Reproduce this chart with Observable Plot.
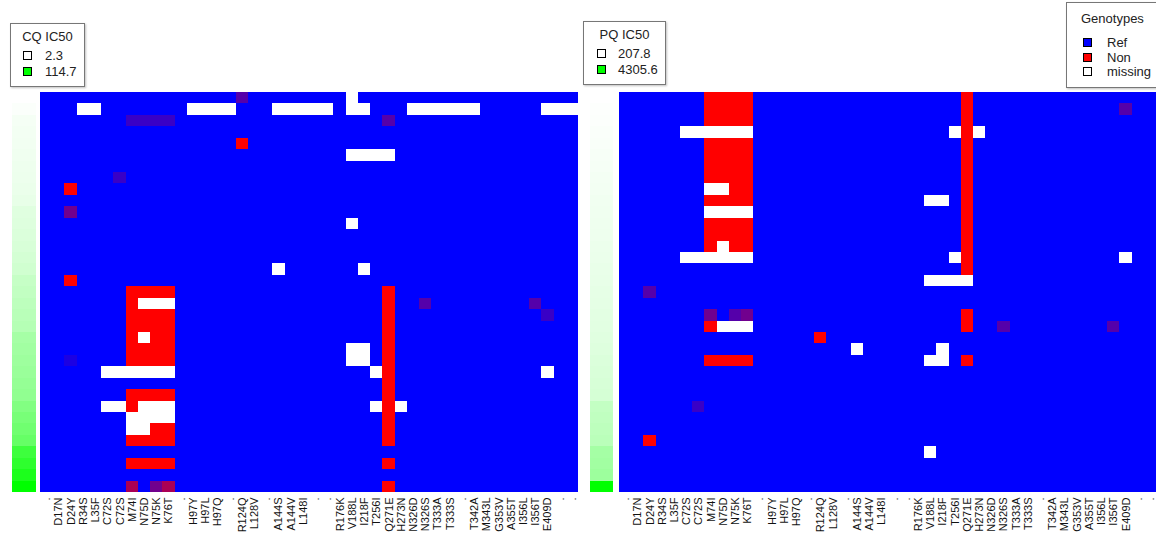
<!DOCTYPE html>
<html>
<head>
<meta charset="utf-8">
<script src="https://cdn.jsdelivr.net/npm/d3@7"></script>
<script src="https://cdn.jsdelivr.net/npm/@observablehq/plot@0.6"></script>
<style>
  body { margin: 0; background: #fff; font-family: "Liberation Sans", Arial, Helvetica, sans-serif; }
  #chart { position: relative; width: 1156px; height: 540px; overflow: hidden; }
  .panel { position: absolute; }
  .legend { position: absolute; background: #fff; border: 1px solid #777; box-shadow: 1px 1px 2px rgba(0,0,0,0.25); color: #222; font-size: 13px; box-sizing: border-box; }
  .legend .title { position: absolute; left: 0; right: 0; text-align: center; }
  .legend .item { position: absolute; height: 16px; line-height: 16px; white-space: nowrap; }
  .legend .sw { position: absolute; width: 7px; height: 7px; border: 1px solid #000; top: 3px; }
</style>
</head>
<body>
<div id="chart"></div>
<script>
// Mutation columns (blank names shown as ".")
const columnLabels = [".", "D17N", "D24Y", "R34S", "L35F", "C72S", "C72S", "M74I", "N75D", "N75K", "K76T",
  ".", "H97Y", "H97L", "H97Q", ".", "R124Q", "L128V", ".", "A144S", "A144V", "L148I", ".", ".",
  "R176K", "V188L", "I218F", "T256I", "Q271E", "H273N", "N326D", "N326S", "T333A", "T333S", ".",
  "T342A", "M343L", "G353V", "A355T", "I356L", "I356T", "E409D", ".", "."];

// Isolate IC50 values, sorted ascending (one per heatmap row)
const cqIC50 = [2.3, 4.1, 6.8, 7.5, 8.2, 8.9, 9.6, 10.4, 11.2, 12.5, 15.8, 16.9, 18.1, 19.6, 21.3,
  23.0, 27.5, 29.4, 31.2, 33.0, 35.1, 41.6, 43.2, 45.0, 46.8, 48.9, 51.0, 57.4, 61.8, 65.3,
  69.7, 87.9, 94.6, 102.3, 114.7];
const pqIC50 = [207.8, 236, 262, 281, 305, 330, 352, 378, 402, 425, 448, 466, 489, 512, 534,
  556, 580, 603, 627, 651, 680, 712, 745, 780, 815, 851, 890, 1180, 1225, 1270,
  1320, 1650, 1710, 1780, 4305.6];

// Genotype calls per row: "col" or "from-to" : value, where 0 = Ref, 9 = Non,
// intermediate digits = mixed calls, x = missing; unlisted columns are Ref.
const cqGenotypes = [
  "16:3 25:x",
  "3-4:x 12-15:x 19-23:x 25-26:x 30-35:x 41-43:x",
  "7-10:2 28:3",
  "",
  "16:9",
  "25-28:x",
  "",
  "6:2",
  "2:9",
  "",
  "2:4",
  "25:x",
  "",
  "",
  "",
  "19:x 26:x",
  "2:9",
  "7-10:9 28:9",
  "7:9 8-10:x 28:9 31:3 40:3",
  "7-10:9 28:9 41:2",
  "7-10:9 28:9",
  "7:9 8:x 9-10:9 28:9",
  "7-10:9 25-26:x 28:9",
  "2:1 7-10:9 25-26:x 28:9",
  "5-10:x 27:x 28:9 41:x",
  "28:9",
  "7-10:9 28:9",
  "5-6:x 7:9 8-10:x 27:x 28:9 29:x",
  "7-10:x 28:9",
  "7-8:x 9-10:9 28:9",
  "7-10:9 28:9",
  "",
  "7-10:9 28:9",
  "",
  "7:6 9:4 10:6 28:9"
];
const pqGenotypes = [
  "7-10:9 28:9",
  "7-10:9 28:9 41:3",
  "7-10:9 28:9",
  "5-10:x 27:x 28:9 29:x",
  "7-10:9 28:9",
  "7-10:9 28:9",
  "7-10:9 28:9",
  "7-10:9 28:9",
  "7-8:x 9-10:9 28:9",
  "7-10:9 25-26:x 28:9",
  "7-10:x 28:9",
  "7-10:9 28:9",
  "7-10:9 28:9",
  "7:9 8:x 9-10:9 28:9",
  "5-10:x 27:x 28:9 41:x",
  "28:9",
  "25-28:x",
  "2:3",
  "",
  "7:4 9:3 10:4 28:9",
  "7:9 8-10:x 28:9 31:3 40:3",
  "16:9",
  "19:x 26:x",
  "7-10:9 25-26:x 28:9",
  "",
  "",
  "",
  "6:2",
  "",
  "",
  "2:9",
  "25:x",
  "",
  "",
  ""
];

const genotypeNames = ["Ref", "Non", "missing"];
const genotypeColors = ["#0000ff", "#ff0000", "#ffffff"];
const ic50Colors = ["#ffffff", "#00ff00"];

const chart = document.getElementById("chart");

function parseRow(spec) {
  const vals = new Array(columnLabels.length).fill(0);
  for (const tok of spec.split(/\s+/).filter(Boolean)) {
    const [range, v] = tok.split(":");
    const [a, b = a] = range.split("-").map(Number);
    for (let c = a; c <= b; ++c) vals[c] = v === "x" ? NaN : +v / 9;
  }
  return vals;
}

function place(node, left, top) {
  node.classList.add("panel");
  node.style.left = left + "px";
  node.style.top = top + "px";
  chart.appendChild(node);
}

function heatmap(rows, width) {
  const cells = [];
  rows.forEach((spec, r) => parseRow(spec).forEach((v, c) => cells.push({row: r, col: c, v})));
  return Plot.plot({
    width, height: 448,
    marginTop: 0, marginRight: 0, marginBottom: 48, marginLeft: 0,
    x: {type: "band", domain: d3.range(columnLabels.length), padding: 0, round: false},
    y: {type: "band", domain: d3.range(rows.length), padding: 0, round: false, axis: null},
    color: {type: "linear", domain: [0, 1], range: genotypeColors.slice(0, 2), interpolate: "rgb"},
    style: {fontFamily: "'Liberation Sans', Arial, sans-serif", background: "transparent"},
    marks: [
      Plot.cell(cells.filter(d => !isNaN(d.v)), {x: "col", y: "row", fill: "v", inset: 0, shapeRendering: "crispEdges"}),
      Plot.cell(cells.filter(d => isNaN(d.v)), {x: "col", y: "row", fill: genotypeColors[2], inset: 0, shapeRendering: "crispEdges"}),
      Plot.axisX({tickRotate: -90, tickSize: 0, tickPadding: 5, fontSize: 11, fill: "#111",
        tickFormat: i => columnLabels[i], label: null})
    ]
  });
}

function sideBar(values, width) {
  return Plot.plot({
    width, height: 400,
    margin: 0,
    y: {type: "band", domain: d3.range(values.length), padding: 0, round: false, axis: null},
    color: {type: "linear", domain: d3.extent(values), range: ic50Colors, interpolate: "rgb"},
    marks: [
      Plot.cell(values, {y: (d, i) => i, fill: d => d, inset: 0, shapeRendering: "crispEdges"})
    ]
  });
}

function ic50Legend(title, values, box) {
  const [lo, hi] = d3.extent(values);
  const div = document.createElement("div");
  div.className = "legend";
  Object.assign(div.style, {left: box.left + "px", top: box.top + "px", width: box.width + "px", height: box.height + "px"});
  div.innerHTML = `<div class="title" style="top:5px">${title}</div>` +
    [lo, hi].map((v, i) => `<div class="item" style="left:${box.sw}px;top:${24 + i * 16}px">` +
      `<span class="sw" style="left:0;background:${ic50Colors[i]}"></span>` +
      `<span style="position:absolute;left:${box.txt}px">${v}</span></div>`).join("");
  chart.appendChild(div);
}

function genotypeLegend(box) {
  const div = document.createElement("div");
  div.className = "legend";
  Object.assign(div.style, {left: box.left + "px", top: box.top + "px", width: box.width + "px", height: box.height + "px"});
  div.innerHTML = `<div class="title" style="top:8px;text-align:left;left:14px">Genotypes</div>` +
    genotypeNames.map((n, i) => `<div class="item" style="left:16px;top:${32 + i * 14.5}px">` +
      `<span class="sw" style="left:0;background:${genotypeColors[i]}"></span>` +
      `<span style="position:absolute;left:24px">${n}</span></div>`).join("");
  chart.appendChild(div);
}

// Left panel: CQ
place(sideBar(cqIC50, 24), 12, 92);
place(heatmap(cqGenotypes, 538), 40, 92);
ic50Legend("CQ IC50", cqIC50, {left: 10, top: 23, width: 75, height: 64, sw: 12, txt: 22});

// Right panel: PQ
place(sideBar(pqIC50, 23), 590, 92);
place(heatmap(pqGenotypes, 537), 619, 92);
ic50Legend("PQ IC50", pqIC50, {left: 583, top: 21, width: 83, height: 64, sw: 13, txt: 21});

genotypeLegend({left: 1066, top: 2, width: 95, height: 86});
</script>
</body>
</html>
